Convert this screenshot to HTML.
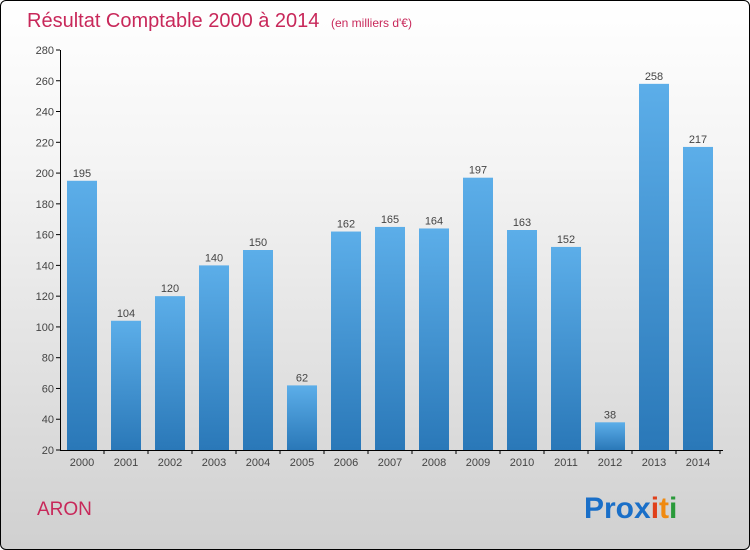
<!DOCTYPE html>
<html><head><meta charset="utf-8"><style>
body{margin:0}
#c{position:relative;width:748px;height:548px;border:1px solid #000;border-radius:6px;background:linear-gradient(#fff,#f4f4f4 30%,#d0d0d0);overflow:hidden;font-family:"Liberation Sans",sans-serif}
</style></head><body>
<div id="c">
<svg width="748" height="548">
<defs><linearGradient id="g" x1="0" y1="0" x2="0" y2="1"><stop offset="0" stop-color="#5caee9"/><stop offset="1" stop-color="#2a78b8"/></linearGradient></defs>
<text x="26" y="26" font-size="20" fill="#c8285a">Résultat Comptable 2000 à 2014 <tspan font-size="12" dx="6">(en milliers d'€)</tspan></text>
<g id="plot"></g>
<text x="36" y="514" font-size="19" fill="#c8285a">ARON</text>
<text x="583" y="517" font-size="30" font-weight="bold"><tspan fill="#1a6fc8">Pro</tspan><tspan fill="#1a6fc8">x</tspan><tspan fill="#e0401a">i</tspan><tspan fill="#f08a10">t</tspan><tspan fill="#2a9a3a">i</tspan></text>
</svg>
</div>
<script>
const years=["2000","2001","2002","2003","2004","2005","2006","2007","2008","2009","2010","2011","2012","2013","2014"];
const values=[195,104,120,140,150,62,162,165,164,197,163,152,38,258,217];
const ticks=[20,40,60,80,100,120,140,160,180,200,220,240,260,280];
const NS="http://www.w3.org/2000/svg";
const p=document.getElementById('plot');
const y=v=>449-(v-20)*400/260;
const x=i=>81+i*44;
function mk(t,a){const e=document.createElementNS(NS,t);for(const k in a)e.setAttribute(k,a[k]);p.appendChild(e);return e;}
ticks.forEach(t=>{
const l=mk('line',{x1:55,x2:59,y1:y(t),y2:y(t),stroke:'#000'});


const tx=mk('text',{x:53,y:y(t)+4,'font-size':11,fill:'#444','text-anchor':'end'});tx.textContent=t;


});
years.forEach((yr,i)=>{
const r=mk('rect',{x:x(i)-15,y:y(values[i]),width:30,height:y(20)-y(values[i]),fill:'url(#g)'});


const v=mk('text',{x:x(i),y:y(values[i])-4,'font-size':11,fill:'#444','text-anchor':'middle'});v.textContent=values[i];


const lb=mk('text',{x:x(i),y:465,'font-size':11,fill:'#444','text-anchor':'middle'});lb.textContent=yr;


mk('line',{x1:x(i)+22,x2:x(i)+22,y1:449,y2:453,stroke:'#000'});
});
const ax=mk('line',{x1:59.5,x2:59.5,y1:y(280),y2:450,stroke:'#000'});


const bx=mk('line',{x1:59,x2:722,y1:449.5,y2:449.5,stroke:'#000'});


</script>
</body></html>
